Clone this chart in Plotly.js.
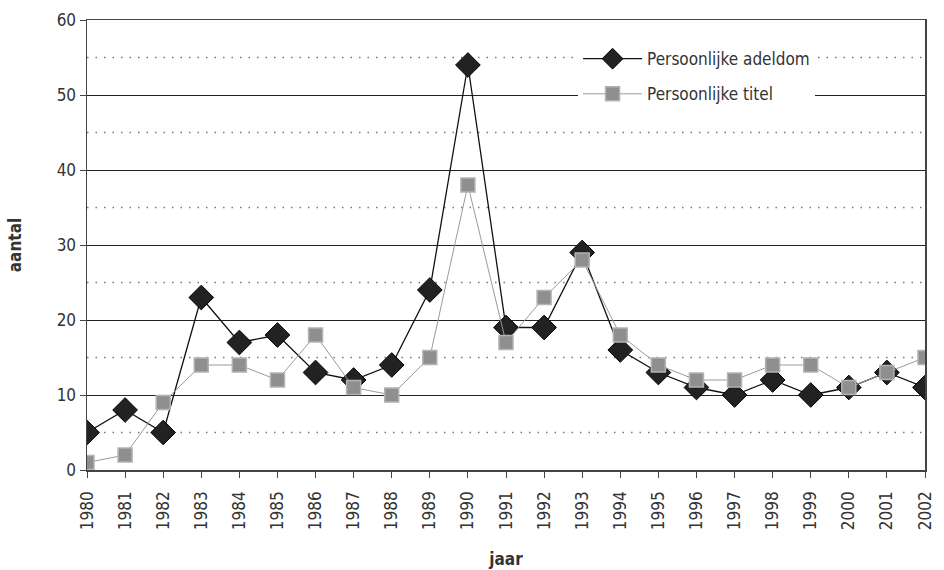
<!DOCTYPE html>
<html><head><meta charset="utf-8">
<script src="https://cdn.plot.ly/plotly-3.0.1.min.js"></script>
<style>body{margin:0;background:#fff}#c{width:944px;height:570px}</style>
</head><body><div id="c"></div>
<script>
const years = [1980,1981,1982,1983,1984,1985,1986,1987,1988,1989,1990,1991,1992,1993,1994,1995,1996,1997,1998,1999,2000,2001,2002];
const adeldom = [5,8,5,23,17,18,13,12,14,24,54,19,19,29,16,13,11,10,12,10,11,13,11];
const titel = [1,2,9,14,14,12,18,11,10,15,38,17,23,28,18,14,12,12,14,14,11,13,15];
const seriesNames = ["Persoonlijke adeldom","Persoonlijke titel"];
const yTicks = [0,10,20,30,40,50,60];
const minorY = [5,15,25,35,45,55];

const F = "'DejaVu Sans Condensed', 'Liberation Sans Narrow', sans-serif";

const traces = [
  {x: years, y: adeldom, name: seriesNames[0], type:'scatter', mode:'lines+markers', legendgroup:'a',
   line:{color:'#111', width:1.3},
   marker:{symbol:'diamond', size:19, color:'#222', line:{color:'#000', width:1}}},
  {x: years, y: titel, name: seriesNames[1], type:'scatter', mode:'lines+markers', legendgroup:'b',
   line:{color:'#9a9a9a', width:1},
   marker:{symbol:'square', size:14, color:'#8f8f8f', line:{color:'#b3b3b3', width:1.5}}}
];

const shapes = minorY.map(v => ({type:'line', xref:'paper', x0:0, x1:1, yref:'y', y0:v, y1:v,
  line:{color:'#777', width:1.5, dash:'1.5px,7px'}, layer:'below'}));

const layout = {
  width:944, height:570,
  margin:{l:87, r:19, t:20, b:100},
  paper_bgcolor:'#fff', plot_bgcolor:'#fff',
  font:{family:F, size:17, color:'#333'},
  showlegend:true,
  legend:{x:0.586, y:0.953, xanchor:'left', yanchor:'top', bgcolor:'#fff',
    traceorder:'grouped', font:{family:F, size:17, color:'#333'}, itemwidth:59, tracegroupgap:10},
  xaxis:{range:[1980,2002], tickmode:'array', tickvals:years, ticktext:years.map(String),
    tickangle:-90, ticks:'outside', ticklen:6, tickcolor:'#444', ticklabelstandoff:7,
    showgrid:false, zeroline:false,
    showline:true, linecolor:'#444', linewidth:1.5, mirror:true,
    title:{text:'<b>jaar</b>', font:{family:F, size:17, color:'#333'}, standoff:24}},
  yaxis:{range:[0,60], tickmode:'array', tickvals:yTicks, ticks:'outside', ticklen:6, tickcolor:'#444',
    showgrid:true, gridcolor:'#222', gridwidth:1, zeroline:false,
    showline:true, linecolor:'#444', linewidth:1.5, mirror:true,
    title:{text:'<b>aantal</b>', font:{family:F, size:17, color:'#333'}, standoff:30}},
  shapes: shapes
};
Plotly.newPlot('c', traces, layout, {displayModeBar:false, staticPlot:true});
</script></body></html>
